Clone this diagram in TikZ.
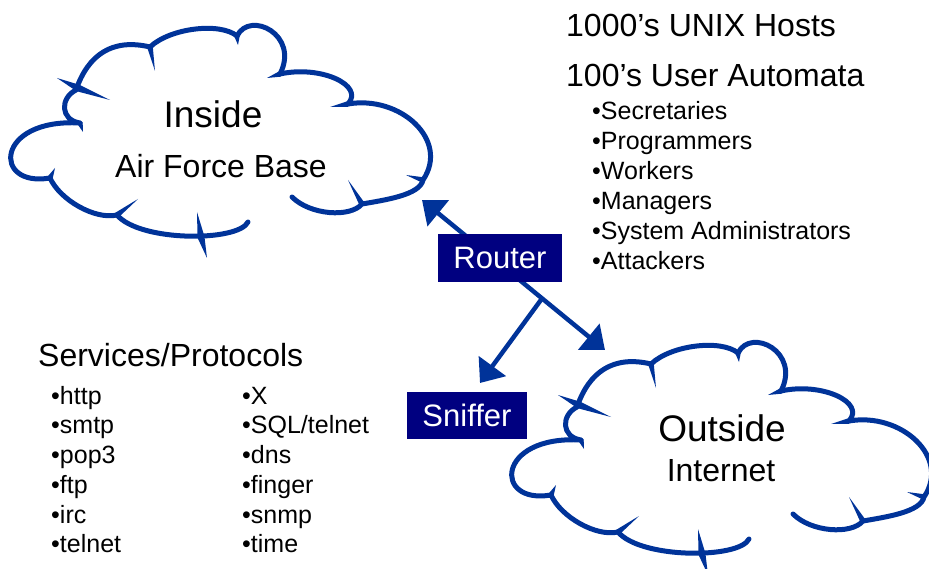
\documentclass[tikz,border=0pt]{standalone}
\usepackage{fontspec}
\setmainfont{Liberation Sans}
\usetikzlibrary{arrows.meta,calc}

\definecolor{cloudblue}{RGB}{0,51,153}
\definecolor{boxnavy}{RGB}{0,0,128}

% tapered little hook on a cloud: base point, tip point
\newcommand{\puffhook}[3][2.8pt]{%
  \fill[cloudblue] ($(#2)!#1!90:(#3)$) -- (#3) -- ($(#2)!#1!-90:(#3)$) -- cycle;}

\tikzset{
  puffline/.style={draw=cloudblue, line width=5pt, line cap=round, line join=round},
  wire/.style={draw=cloudblue, line width=4.5pt},
  head/.tip={Triangle[length=21pt,width=33pt]},
  cloudtitle/.style={inner sep=0pt, anchor=base, font=\fontsize{37}{42}\selectfont},
  cloudsub/.style={inner sep=0pt, anchor=base, font=\fontsize{32}{38}\selectfont},
  heading/.style={inner sep=0pt, anchor=base west, font=\fontsize{32}{38}\selectfont},
  bulletitem/.style={inner sep=0pt, anchor=base west, font=\fontsize{25}{29}\selectfont},
  tagbox/.style={fill=boxnavy, text=white, inner sep=0pt, font=\fontsize{31}{36}\selectfont},
  puffs/.pic={
    \draw[puffline] (248,222) .. controls (238,242) and (140,242) .. (117,215)
      .. controls (95,220) and (60,200) .. (50,178)
      .. controls (-8,188) and (-5,118) .. (80,123)
      .. controls (60,120) and (60,98) .. (76,90)
      .. controls (88,55) and (112,38) .. (150,47)
      .. controls (170,28) and (220,22) .. (237,36)
      .. controls (250,10) and (300,35) .. (280,74)
      .. controls (320,65) and (365,85) .. (348,104)
      .. controls (400,95) and (450,140) .. (423,180)
      .. controls (420,195) and (385,200) .. (362,204)
      .. controls (350,218) and (310,215) .. (292,197);
    \puffhook{50,178}{55,168}
    \puffhook{117,215}{138,199}
    \puffhook[3.5pt]{201,237}{197,212}
    \puffhook[3.5pt]{201,237}{207,258}
    \puffhook{362,204}{348,180}
    \puffhook{423,180}{406,175}
    \puffhook{348,104}{330,107}
    \puffhook{280,74}{267,78}
    \puffhook{237,36}{238,45}
    \puffhook{150,47}{155,71}
    \puffhook[3.5pt]{78,88}{57,78}
    \puffhook[3.5pt]{78,88}{110,100}
    \puffhook{80,123}{83,132}
  }
}

\begin{document}
\begin{tikzpicture}[x=1pt,y=-1pt]
\useasboundingbox (0,0) rectangle (929,569);
\clip (0,0) rectangle (929,569);

% clouds
\pic at (0,0) {puffs};
\pic at (501,317) {puffs};

\node[cloudtitle] (inside) at (213,128) {Inside};
\node[cloudsub] (base) at (221,178) {Air Force Base};
\node[cloudtitle] (outside) at (722,441) {Outside};
\node[cloudsub] (internet) at (721,481) {Internet};

% links
\coordinate (insideport) at (422,200);
\coordinate (outsideport) at (605,350);
\coordinate (tap) at ($(insideport)!0.656!(outsideport)$);
\coordinate (sniffertip) at (480,383);
\draw[wire, {head}-{head}] (insideport) -- (outsideport);
\draw[wire, -{head}] (tap) -- (sniffertip);

\node[tagbox, minimum width=124pt, minimum height=48pt] (router) at (500,258) {Router};
\node[tagbox, minimum width=120pt, minimum height=47pt] (sniffer) at (467,415.5) {Sniffer};

% hosts and users
\node[heading] (hosts) at (566,37) {1000’s UNIX Hosts};
\node[heading] (automata) at (566,87) {100’s User Automata};
\foreach \who [count=\i] in {Secretaries,Programmers,Workers,Managers,System Administrators,Attackers}
  \node[bulletitem] (user\i) at (592,{90+30*\i}) {•\who};

% services
\node[heading] (services) at (38,366) {Services/Protocols};
\foreach \srv [count=\i] in {http,smtp,pop3,ftp,irc,telnet}
  \node[bulletitem] (srvl\i) at (51,{374.25+29.75*\i}) {•\srv};
\foreach \srv [count=\i] in {X,SQL/telnet,dns,finger,snmp,time}
  \node[bulletitem] (srvr\i) at (242,{374.25+29.75*\i}) {•\srv};
\end{tikzpicture}
\end{document}
